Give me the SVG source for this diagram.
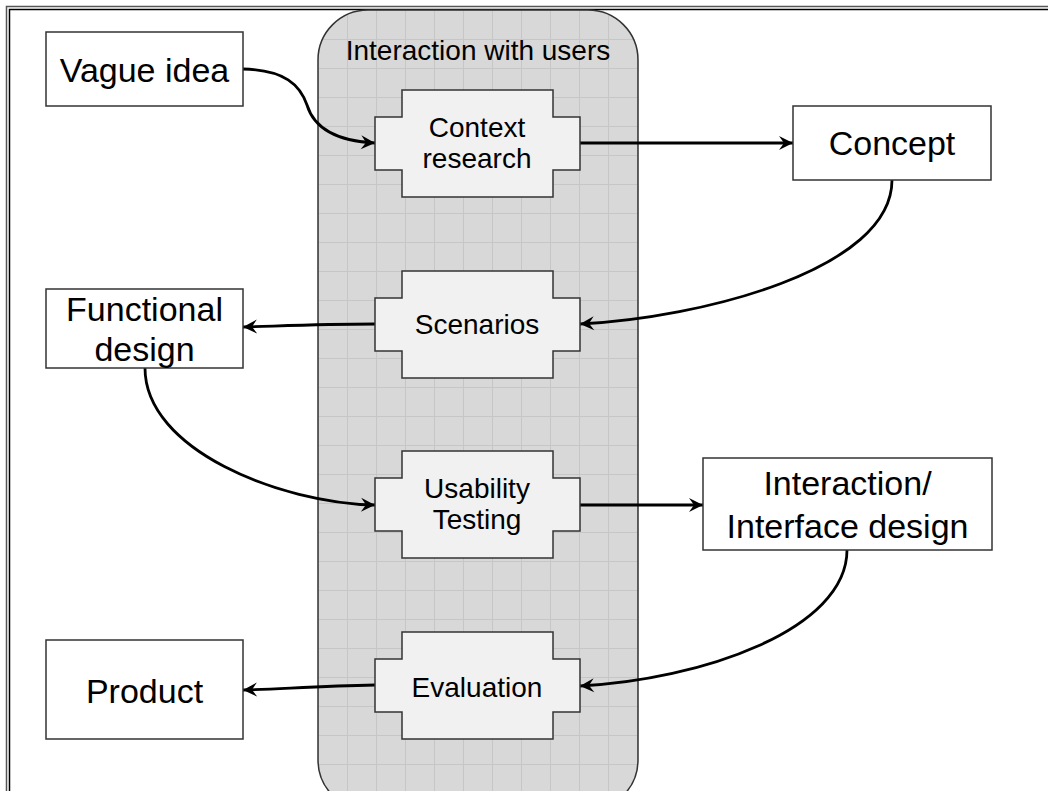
<svg xmlns="http://www.w3.org/2000/svg" xmlns:xlink="http://www.w3.org/1999/xlink" width="1048" height="791" viewBox="0 0 1048 791">
  <style>
    .box { fill: #ffffff; stroke: #333333; stroke-width: 1.5; }
    .cross { fill: #f1f1f1; stroke: #333333; stroke-width: 1.5; }
    .big { font-family: "Liberation Sans", Arial, sans-serif; font-size: 34px; fill: #000; text-anchor: middle; }
    .small { font-family: "Liberation Sans", Arial, sans-serif; font-size: 28px; fill: #000; text-anchor: middle; }
    .conn { fill: none; stroke: #000; stroke-width: 2.8; marker-end: url(#arrow); }
  </style>
  <defs>
    <marker id="arrow" markerUnits="userSpaceOnUse" markerWidth="16" markerHeight="16" viewBox="0 0 16 16" refX="15" refY="8" orient="auto">
      <path d="M1,1 L15,8 L1,15 L6,8 Z" fill="#000"/>
    </marker>
    <pattern id="grid" patternUnits="userSpaceOnUse" x="318" y="10" width="29" height="29">
      <rect width="29" height="29" fill="#d8d8d8"/>
      <path d="M0,0.5 H29 M0.5,0 V29" stroke="#c6c6c6" stroke-width="1"/>
    </pattern>
    <path id="crossShape" d="M402,0 H553 V27 H580 V80 H553 V107 H402 V80 H375 V27 H402 Z"/>
  </defs>

  <rect x="0" y="0" width="1048" height="791" fill="#ffffff"/>

  <!-- frame -->
  <g id="frame" fill="none">
    <path d="M6.5,791 V6.5 H1048" stroke="#555555" stroke-width="1.5"/>
    <path d="M9.5,791 V9.5 H1048" stroke="#000000" stroke-width="1.5"/>
  </g>

  <!-- container -->
  <g id="container">
    <rect x="318" y="10" width="320" height="800" rx="50" ry="50" fill="url(#grid)" stroke="#333333" stroke-width="1.5"/>
    <text class="small" x="478" y="60">Interaction with users</text>
  </g>

  <!-- connectors -->
  <g id="connectors">
    <path class="conn" d="M243,69 C285,70 300,85 307,105 C314,128 335,141 375,143"/>
    <path class="conn" d="M580,143 H793"/>
    <path class="conn" d="M892,180 C892,270 700,318 580,324"/>
    <path class="conn" d="M375,324 C320,324 280,326 243,327"/>
    <path class="conn" d="M145,368 C145,450 280,503 375,505"/>
    <path class="conn" d="M580,505 H703"/>
    <path class="conn" d="M847,550 C847,630 700,680 580,686"/>
    <path class="conn" d="M375,685 C320,686 280,689 243,690"/>
  </g>

  <!-- cross nodes -->
  <g id="context-research">
    <use xlink:href="#crossShape" class="cross" transform="translate(0,90)"/>
    <text class="small" x="477" y="137">Context</text>
    <text class="small" x="477" y="168">research</text>
  </g>
  <g id="scenarios">
    <use xlink:href="#crossShape" class="cross" transform="translate(0,271)"/>
    <text class="small" x="477" y="334">Scenarios</text>
  </g>
  <g id="usability-testing">
    <use xlink:href="#crossShape" class="cross" transform="translate(0,451)"/>
    <text class="small" x="477" y="498">Usability</text>
    <text class="small" x="477" y="529">Testing</text>
  </g>
  <g id="evaluation">
    <use xlink:href="#crossShape" class="cross" transform="translate(0,632)"/>
    <text class="small" x="477" y="697">Evaluation</text>
  </g>

  <!-- plain nodes -->
  <g id="vague-idea">
    <rect class="box" x="46" y="32" width="197" height="74"/>
    <text class="big" x="144.5" y="82">Vague idea</text>
  </g>
  <g id="concept">
    <rect class="box" x="793" y="106" width="198" height="74"/>
    <text class="big" x="892" y="155">Concept</text>
  </g>
  <g id="functional-design">
    <rect class="box" x="46" y="289" width="197" height="79"/>
    <text class="big" x="144.5" y="321">Functional</text>
    <text class="big" x="144.5" y="361">design</text>
  </g>
  <g id="interaction-interface-design">
    <rect class="box" x="703" y="458" width="289" height="92"/>
    <text class="big" x="847.5" y="495">Interaction/</text>
    <text class="big" x="847.5" y="538">Interface design</text>
  </g>
  <g id="product">
    <rect class="box" x="46" y="640" width="197" height="99"/>
    <text class="big" x="144.5" y="703">Product</text>
  </g>
</svg>
